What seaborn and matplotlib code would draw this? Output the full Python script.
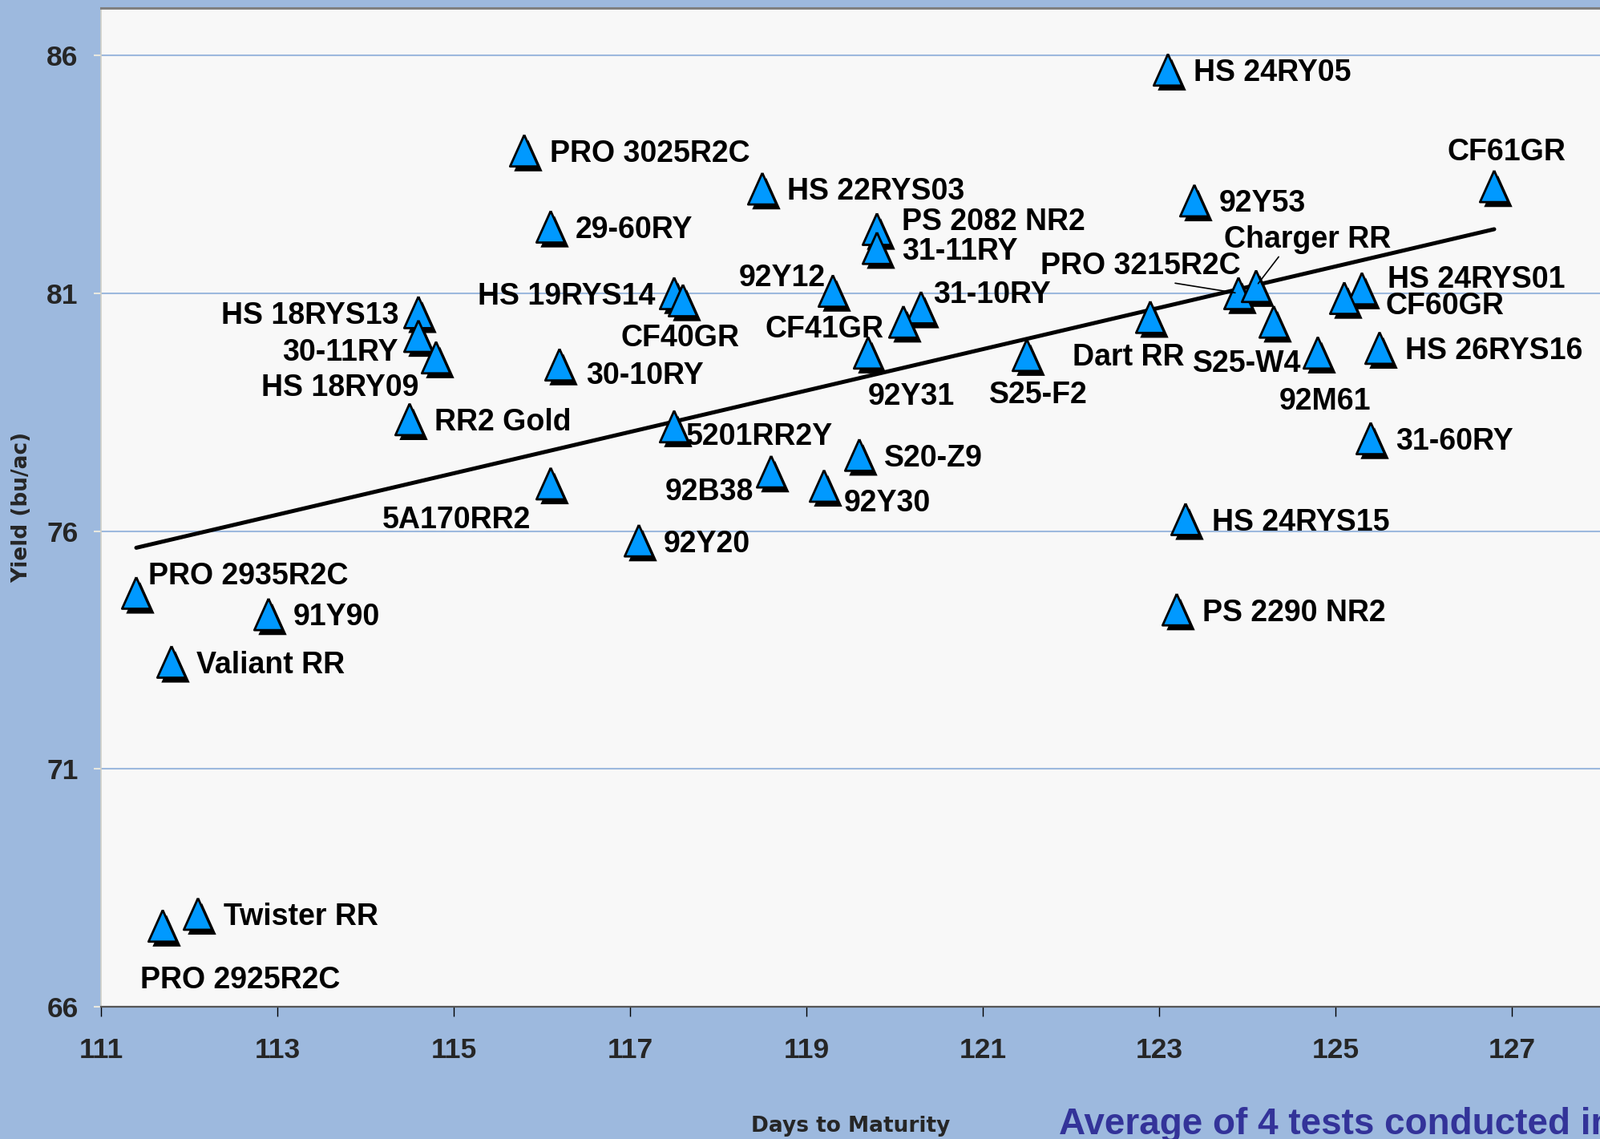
import numpy as np
import pandas as pd
import matplotlib
matplotlib.use("Agg")
import matplotlib.pyplot as plt
import matplotlib.patheffects as pe
import seaborn as sns

# ---------------- data ----------------
varieties = [
    "PRO 3025R2C", "HS 24RY05", "CF61GR", "HS 22RYS03", "92Y53", "29-60RY",
    "PS 2082 NR2", "31-11RY", "92Y12", "HS 19RYS14", "CF40GR", "HS 18RYS13",
    "30-11RY", "HS 18RY09", "30-10RY", "31-10RY", "CF41GR", "92Y31", "S25-F2",
    "Dart RR", "PRO 3215R2C", "Charger RR", "S25-W4", "92M61", "HS 24RYS01",
    "CF60GR", "HS 26RYS16", "31-60RY", "RR2 Gold", "5201RR2Y", "S20-Z9",
    "92B38", "92Y30", "5A170RR2", "HS 24RYS15", "92Y20", "PRO 2935R2C",
    "PS 2290 NR2", "91Y90", "Valiant RR", "Twister RR", "PRO 2925R2C",
]
days_to_maturity = [
    115.8, 123.1, 126.8, 118.5, 123.4, 116.1,
    119.8, 119.8, 119.3, 117.5, 117.6, 114.6,
    114.6, 114.8, 116.2, 120.3, 120.1, 119.7, 121.5,
    122.9, 123.9, 124.1, 124.3, 124.8, 125.3,
    125.1, 125.5, 125.4, 114.5, 117.5, 119.6,
    118.6, 119.2, 116.1, 123.3, 117.1, 111.4,
    123.2, 112.9, 111.8, 112.1, 111.7,
]
yield_bu_ac = [
    84.0, 85.7, 83.25, 83.2, 82.95, 82.4,
    82.35, 81.95, 81.05, 81.0, 80.85, 80.6,
    80.1, 79.65, 79.5, 80.7, 80.4, 79.75, 79.7,
    80.5, 81.0, 81.15, 80.4, 79.75, 81.1,
    80.9, 79.85, 77.95, 78.35, 78.2, 77.6,
    77.25, 76.95, 77.0, 76.25, 75.8, 74.7,
    74.35, 74.25, 73.25, 67.95, 67.7,
]
x_ticks = [111, 113, 115, 117, 119, 121, 123, 125, 127]
y_ticks = [66, 71, 76, 81, 86]

# label placement (offset in pixels from marker, horizontal alignment)
label_layout = {
    "PRO 3025R2C": (32, 0, "left"), "HS 24RY05": (32, 0, "left"),
    "CF61GR": (15, 46, "center"), "HS 22RYS03": (31, 0, "left"),
    "92Y53": (31, 0, "left"), "29-60RY": (31, 0, "left"),
    "PS 2082 NR2": (31, 13, "left"), "31-11RY": (31, 0, "left"),
    "92Y12": (-9, 20, "right"), "HS 19RYS14": (-23, 0, "right"),
    "CF40GR": (-3, -43, "center"), "HS 18RYS13": (-24, 0, "right"),
    "30-11RY": (-25, -17, "right"), "HS 18RY09": (-22, -34, "right"),
    "30-10RY": (33, -10, "left"), "31-10RY": (15, 20, "left"),
    "CF41GR": (-24, -5, "right"), "92Y31": (0, -51, "left"),
    "S25-F2": (14, -46, "center"), "Dart RR": (-27, -46, "center"),
    "PRO 3215R2C": (3, 38, "right"), "Charger RR": (64, 62, "center"),
    "S25-W4": (34, -48, "right"), "92M61": (9, -57, "center"),
    "HS 24RYS01": (32, 15, "left"), "CF60GR": (51, -6, "left"),
    "HS 26RYS16": (32, 0, "left"), "31-60RY": (31, 0, "left"),
    "RR2 Gold": (31, 0, "left"), "5201RR2Y": (15, -9, "left"),
    "S20-Z9": (31, 0, "left"), "92B38": (-22, -22, "right"),
    "92Y30": (25, -18, "left"), "5A170RR2": (-25, -42, "right"),
    "HS 24RYS15": (33, 0, "left"), "92Y20": (31, 0, "left"),
    "PRO 2935R2C": (15, 25, "left"), "PS 2290 NR2": (32, 0, "left"),
    "91Y90": (31, 0, "left"), "Valiant RR": (31, 0, "left"),
    "Twister RR": (32, 0, "left"), "PRO 2925R2C": (-28, -64, "left"),
}
leader = {"PRO 3215R2C": (0.59, 0.0), "Charger RR": (0.34, 0.0)}

df = pd.DataFrame({"variety": varieties, "days": days_to_maturity,
                   "yield": yield_bu_ac})

# ---------------- style ----------------
sns.set_theme(style="white")
plt.rcParams["font.family"] = ["Liberation Sans", "DejaVu Sans"]
plt.rcParams["font.weight"] = "bold"

BG = "#9DB9DE"
fig = plt.figure(figsize=(19.96, 14.21), dpi=100, facecolor=BG)
W, H = 1996, 1421
ax = fig.add_axes([126 / W, 1 - 1256 / H, (W - 126) / W, (1256 - 10) / H])
ax.set_facecolor("#F8F8F8")

sns.regplot(data=df, x="days", y="yield", ax=ax, scatter=False, ci=None,
            truncate=True, line_kws=dict(color="black", lw=3.6, zorder=3))

tri = [(0, 1), (-0.9, -1), (0.9, -1), (0, 1)]
sns.scatterplot(data=df, x="days", y="yield", ax=ax, marker=tri, s=800,
                color="#0099FF", edgecolor="black", linewidth=2.0, zorder=4,
                legend=False,
                path_effects=[pe.SimplePatchShadow(offset=(3.6, -4.4),
                                                   shadow_rgbFace="black",
                                                   alpha=1.0),
                              pe.Normal()])

for name, x, y in zip(varieties, days_to_maturity, yield_bu_ac):
    dx, dy, ha = label_layout[name]
    kw = {}
    if name in leader:
        kw["arrowprops"] = dict(arrowstyle="-", color="black", lw=1.2,
                                shrinkA=0, shrinkB=3, relpos=leader[name])
    ax.annotate(name, xy=(x, y), xytext=(dx, dy - 4),
                textcoords="offset pixels", ha=ha, va="center",
                fontsize=27, fontweight="bold", color="black",
                zorder=6, **kw)

ax.set_xlim(111, 128)
ax.set_ylim(66, 87)
ax.set_xticks(x_ticks)
ax.set_yticks(y_ticks)
ax.set_xticklabels([str(t) for t in x_ticks])
ax.set_yticklabels([str(t) for t in y_ticks])

ax.yaxis.grid(True, color=BG, lw=1.5)
ax.xaxis.grid(False)
ax.set_axisbelow(True)

ax.tick_params(axis="x", direction="out", length=8.6, width=1, color="black",
               pad=19, labelsize=25.5, bottom=True)
ax.tick_params(axis="y", direction="out", length=6.5, width=1.5,
               color="#E8E8E0", pad=14, labelsize=25.5, left=True)
for lab in ax.get_xticklabels() + ax.get_yticklabels():
    lab.set_fontweight("bold")

ax.spines["top"].set_color("#808080")
ax.spines["top"].set_linewidth(2.2)
ax.spines["bottom"].set_color("#555555")
ax.spines["bottom"].set_linewidth(1.6)
ax.spines["left"].set_color("#D0D0C8")
ax.spines["left"].set_linewidth(1.2)
ax.spines["right"].set_visible(False)

title_font = dict(family="DejaVu Sans", size=19, weight="bold")
ax.set_xlabel("Days to Maturity", fontdict=title_font)
ax.xaxis.set_label_coords(0.5, -(1405 - 1256) / 1246)
ax.xaxis.label.set_va("center")
ax.set_ylabel("Yield (bu/ac)", fontdict=title_font)
ax.yaxis.set_label_coords(-(126 - 27) / 1870, 0.5)
ax.yaxis.label.set_va("center")

fig.text(1321 / W, 1 - 1415 / H, "Average of 4 tests conducted in",
         color="#333399", fontsize=33, fontweight="bold",
         ha="left", va="baseline")

fig.savefig("out.png", dpi=100, facecolor=BG)
